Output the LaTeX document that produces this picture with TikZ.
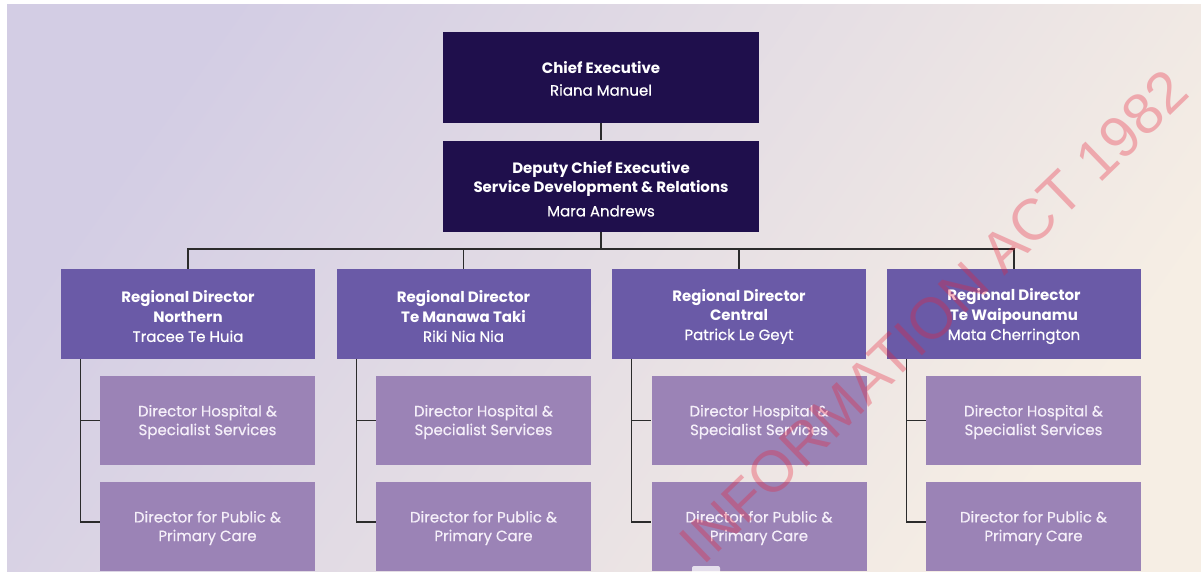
\documentclass[tikz,border=0pt]{standalone}
\usepackage{fontspec}
\setmainfont{Poppins}
\newfontfamily\medfont{Poppins}[FakeBold=0.5]
\newfontfamily\wmfont{Liberation Sans}
\definecolor{bgA}{HTML}{D3CDE4}
\definecolor{bgB}{HTML}{F6EEE4}
\definecolor{darkbx}{HTML}{1F0F4C}
\definecolor{regbx}{HTML}{6A5AA7}
\definecolor{subbx}{HTML}{9B83B6}
\definecolor{subtxt}{HTML}{F5EFF9}
\definecolor{linec}{HTML}{2B2B2B}
\definecolor{wmred}{HTML}{E8203A}
\tikzset{
  shapebox/.style={draw=none, inner sep=0pt},
  darkbox/.style={shapebox, fill=darkbx, minimum width=316pt, minimum height=91pt},
  regbox/.style={shapebox, fill=regbx, minimum width=254pt, minimum height=90pt},
  subbox/.style={shapebox, fill=subbx, minimum width=215pt, minimum height=89pt},
  boxtext/.style={inner sep=0pt, align=center, text=white,
    font=\medfont\fontsize{15}{19.5}\selectfont},
  subtext/.style={boxtext, text=subtxt, font=\medfont\fontsize{15}{18.7}\selectfont},
  conn/.style={draw=linec, line width=1.2pt},
  wmark/.style={text=wmred, text opacity=0.32, inner sep=0pt,
    font=\wmfont\fontsize{58}{58}\selectfont}
}
\newcommand{\bt}[1]{{\normalfont\bfseries #1}}
\begin{document}
\begin{tikzpicture}[x=1pt,y=-1pt]
\useasboundingbox (0,0) rectangle (1201,571);
\clip (0,0) rectangle (1201,571);
\fill[white] (0,0) rectangle (1201,571);
\shade[top color=bgA, bottom color=bgB, shading angle=55] (7,4) rectangle (1201,571);

% top level
\node[darkbox] (ce) at (601,77.5) {};
\node[boxtext] (ce-t) at ([yshift=-1pt]ce.center) {\bt{Chief Executive}\\[3pt]Riana Manuel};
\node[darkbox] (dce) at (601,186) {};
\node[boxtext] (dce-t) at ([yshift=-3pt]dce.center) {\bt{Deputy Chief Executive}\\\bt{Service Development \& Relations}\\[4pt]Mara Andrews};

% regional directors
\foreach \n/\x/\reg/\who in {r1/188/Northern/Tracee Te Huia, r2/463.5/Te Manawa Taki/Riki Nia Nia,
    r3/739/Central/Patrick Le Geyt, r4/1014/Te Waipounamu/Mata Cherrington} {
  \node[regbox] (\n) at (\x,314) {};
  \node[boxtext] (\n-t) at ([yshift=-2.5pt]\n.center) {\bt{Regional Director}\\\bt{\reg}\\\who};
}

% sub directors
\foreach \n/\x in {s1/207.5, s2/483.5, s3/759, s4/1033.5} {
  \node[subbox] (\n a) at (\x,420.5) {};
  \node[subtext] (\n a-t) at ([yshift=-1.5pt]\n a.center) {Director Hospital \&\\Specialist Services};
  \node[subbox] (\n b) at (\x,526.5) {};
  \node[subtext] (\n b-t) at ([yshift=-1.5pt]\n b.center) {Director for Public \&\\Primary Care};
}

% connectors
\coordinate (bus) at (601,249);
\draw[conn] (ce.south) -- (dce.north);
\draw[conn] (dce.south) -- (bus);
\draw[conn] (bus) -| (r1.north);
\draw[conn] (bus) -| (r2.north);
\draw[conn] (bus) -| (r3.north);
\draw[conn] (bus) -| (r4.north);
\foreach \r/\a/\b in {r1/s1a/s1b, r2/s2a/s2b, r3/s3a/s3b, r4/s4a/s4b} {
  \draw[conn] ([xshift=20pt]\r.south west) |- (\a.west);
  \draw[conn] ([xshift=20pt]\r.south west) |- ([yshift=4.5pt]\b.west);
}

% small marker at the bottom edge
\fill[white, opacity=0.75, rounded corners=2pt] (692,566) rectangle (720,576);

% watermark
\node[wmark, rotate=44, anchor=base east] (wm) at (1192,95) {INFORMATION ACT 1982};
\end{tikzpicture}
\end{document}
